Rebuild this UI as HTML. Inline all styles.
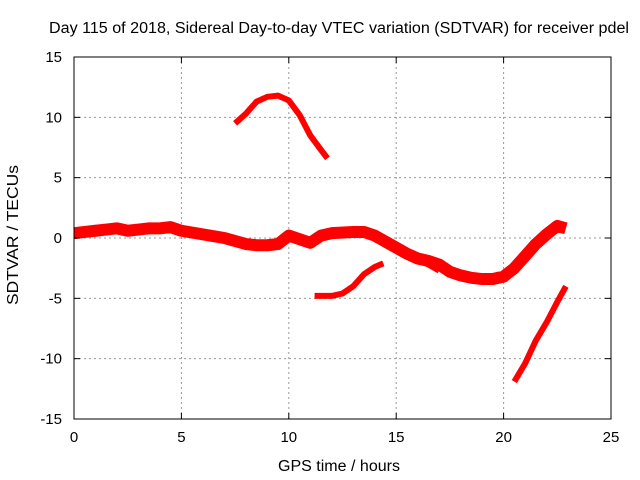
<!DOCTYPE html>
<html><head><meta charset="utf-8"><style>
body{margin:0;background:#fff}
svg{display:block;font-family:"Liberation Sans",sans-serif}
</style></head><body>
<svg id="chart" width="640" height="480" viewBox="0 0 640 480">
<rect width="640" height="480" fill="#fff"/>
<text x="339" y="33" font-size="15.5" text-anchor="middle" textLength="580" lengthAdjust="spacingAndGlyphs">Day 115 of 2018, Sidereal Day-to-day VTEC variation (SDTVAR) for receiver pdel</text>
<g id="grid"></g>
<g id="series"></g>
<rect x="74" y="57" width="537" height="362" fill="none" stroke="#000" stroke-width="1"/>
<g id="ticks"></g>
<text x="339" y="471" font-size="15.5" text-anchor="middle" textLength="122" lengthAdjust="spacingAndGlyphs">GPS time / hours</text>
<text transform="translate(18,235) rotate(-90)" font-size="15.5" text-anchor="middle" textLength="140" lengthAdjust="spacingAndGlyphs">SDTVAR / TECUs</text>
</svg>
<script>
const xTicks=[0,5,10,15,20,25];
const yTicks=[-15,-10,-5,0,5,10,15];
const mainX=[0,0.5,1,1.5,2,2.5,3,3.5,4,4.5,5,6,7,8,8.5,9,9.5,10,10.5,11,11.5,12,13,13.5,14,14.5,15,15.5,16,16.5,17,17.5,18,18.5,19,19.5,20,20.5,21,21.5,22,22.5,22.9];
const mainY=[0.4,0.5,0.6,0.7,0.8,0.6,0.7,0.8,0.8,0.9,0.6,0.3,0,-0.5,-0.6,-0.6,-0.5,0.2,-0.1,-0.4,0.2,0.4,0.5,0.5,0.2,-0.3,-0.8,-1.3,-1.7,-1.9,-2.2,-2.8,-3.1,-3.3,-3.4,-3.4,-3.2,-2.5,-1.5,-0.5,0.3,1,0.8];
const branchX=[15.5,16,16.5,17];
const branchY=[-1.4,-1.8,-2.2,-2.7];
const arcX=[7.5,8,8.5,9,9.5,10,10.5,11,11.5,11.8];
const arcY=[9.5,10.3,11.3,11.7,11.8,11.4,10.2,8.5,7.3,6.6];
const lowX=[11.2,12,12.5,13,13.5,14,14.4];
const lowY=[-4.8,-4.8,-4.6,-4,-3,-2.4,-2.1];
const rightX=[20.5,21,21.5,22,22.5,22.9];
const rightY=[-11.9,-10.4,-8.5,-7,-5.3,-4];
const NS="http://www.w3.org/2000/svg";
const sx=v=>74+v*537/25, sy=v=>238-v*362/30;
const grid=document.getElementById('grid'),ticks=document.getElementById('ticks'),ser=document.getElementById('series');
function mk(t,a,p){const e=document.createElementNS(NS,t);for(const k in a)e.setAttribute(k,a[k]);p.appendChild(e);return e;}
xTicks.forEach(v=>{const x=sx(v);
 if(v>0&&v<25){const g=mk('line',{x1:x,x2:x,y1:57,y2:419,stroke:'#999','stroke-dasharray':'2,3'},grid);}
 const t=mk('text',{x:x,y:442,'font-size':15,'text-anchor':'middle'},ticks);t.textContent=v;
 
 mk('line',{x1:x,x2:x,y1:419,y2:413,stroke:'#000'},ticks);mk('line',{x1:x,x2:x,y1:57,y2:63,stroke:'#000'},ticks);});
yTicks.forEach(v=>{const y=sy(v);
 if(v>-15&&v<15){const g=mk('line',{x1:74,x2:611,y1:y,y2:y,stroke:'#999','stroke-dasharray':'2,3'},grid);}
 const t=mk('text',{x:62,y:y+5,'font-size':15,'text-anchor':'end'},ticks);t.textContent=v;
 
 mk('line',{x1:74,x2:80,y1:y,y2:y,stroke:'#000'},ticks);mk('line',{x1:611,x2:605,y1:y,y2:y,stroke:'#000'},ticks);});
function line(xs,ys,w,name){
 const p=mk('polyline',{points:xs.map((x,i)=>sx(x)+','+sy(ys[i])).join(' '),fill:'none',stroke:'#f00','stroke-width':w,'stroke-linejoin':'round','stroke-linecap':'butt'},ser);
 
 
}
line(mainX,mainY,12,'main-band');
line(branchX,branchY,6,'branch-band');
line(arcX,arcY,6,'arc-segment');
line(lowX,lowY,6,'low-segment');
line(rightX,rightY,6,'right-segment');
</script>
</body></html>
